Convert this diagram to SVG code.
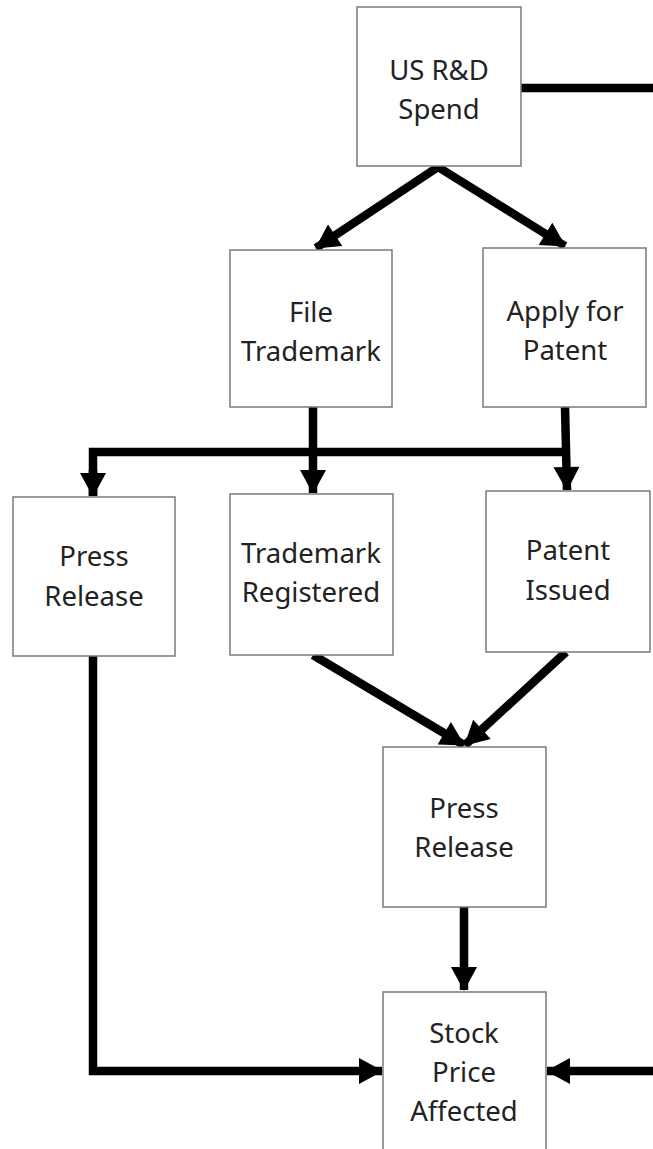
<svg xmlns="http://www.w3.org/2000/svg" width="653" height="1149" viewBox="0 0 653 1149">
<style>
.box{fill:#fff;stroke:#7a7a7a;stroke-width:1.5}
.t{font-family:"Noto Sans","Open Sans",sans-serif;font-size:27.5px;fill:#222;text-anchor:middle}
.c{fill:none;stroke:#000;stroke-width:8.5}
</style>
<defs>
<marker id="ah" markerUnits="userSpaceOnUse" markerWidth="26" markerHeight="26" viewBox="0 0 24 26" refX="23" refY="13" orient="auto">
<path d="M0,0 L24,13 L0,26 Z" fill="#000"/>
</marker>
</defs>
<rect width="653" height="1149" fill="#fff"/>
<g id="connectors">
<path class="c" d="M521,88 H653"/>
<path class="c" d="M438,167 L316,248" marker-end="url(#ah)"/>
<path class="c" d="M438,167 L565,246" marker-end="url(#ah)"/>
<path class="c" d="M313,407 V493" marker-end="url(#ah)"/>
<path class="c" d="M565,407 L567,490" marker-end="url(#ah)"/>
<path class="c" d="M93,496 V452 H567"/>
<path class="c" d="M93,470 V496" marker-end="url(#ah)"/>
<path class="c" d="M313,655 L464,745" marker-end="url(#ah)"/>
<path class="c" d="M566,652 L465,745" marker-end="url(#ah)"/>
<path class="c" d="M464,907 V990" marker-end="url(#ah)"/>
<path class="c" d="M93,656 V1071 H382" marker-end="url(#ah)"/>
<path class="c" d="M653,1071 H547" marker-end="url(#ah)"/>
</g>
<g id="n1"><rect class="box" x="357" y="7" width="164" height="159"/><text class="t" x="439" y="80">US R&amp;D</text><text class="t" x="439" y="119">Spend</text></g>
<g id="n2"><rect class="box" x="230" y="250" width="162" height="157"/><text class="t" x="311" y="322">File</text><text class="t" x="311" y="361">Trademark</text></g>
<g id="n3"><rect class="box" x="483" y="248" width="163" height="159"/><text class="t" x="565" y="321">Apply for</text><text class="t" x="565" y="360">Patent</text></g>
<g id="n4"><rect class="box" x="13" y="497" width="162" height="159"/><text class="t" x="94" y="566">Press</text><text class="t" x="94" y="606">Release</text></g>
<g id="n5"><rect class="box" x="230" y="494" width="163" height="161"/><text class="t" x="311" y="563">Trademark</text><text class="t" x="311" y="602">Registered</text></g>
<g id="n6"><rect class="box" x="486" y="491" width="164" height="161"/><text class="t" x="568" y="560">Patent</text><text class="t" x="568" y="600">Issued</text></g>
<g id="n7"><rect class="box" x="383" y="747" width="163" height="160"/><text class="t" x="464" y="818">Press</text><text class="t" x="464" y="857">Release</text></g>
<g id="n8"><rect class="box" x="383" y="992" width="163" height="162"/><text class="t" x="464" y="1043">Stock</text><text class="t" x="464" y="1082">Price</text><text class="t" x="464" y="1121">Affected</text></g>
</svg>
